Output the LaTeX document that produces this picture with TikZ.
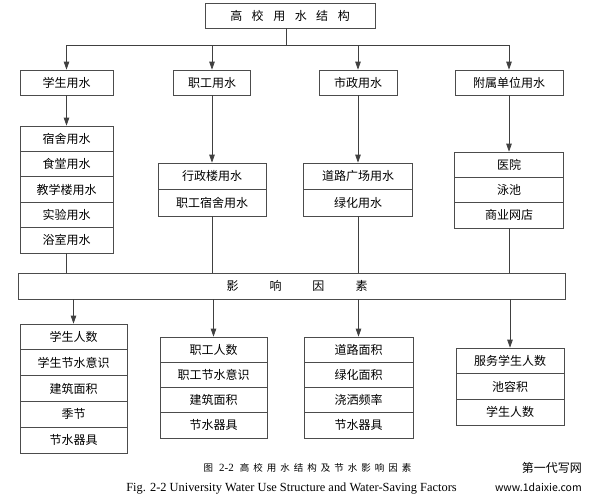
\documentclass[tikz,border=0pt]{standalone}
\usepackage{fontspec}
\setmainfont{Liberation Serif}
\newfontfamily\cjk{Noto Sans CJK SC}
\usetikzlibrary{positioning}
\usetikzlibrary{arrows.meta}
\newcommand{\cg}{\hspace{4pt}}

\begin{document}
\begin{tikzpicture}[x=1pt, y=-1pt, >={Triangle[length=8pt,width=5.5pt]},
    box/.style={draw=black!70, line width=0.7pt, fill=white, inner sep=0pt,
        minimum height=25pt, font=\cjk\fontsize{12}{14}\selectfont},
    link/.style={draw=black!75, line width=0.7pt}]
    \useasboundingbox (0,0) rectangle (593,499);

    % Title
    \node[box, minimum width=170] (title) at (290,15.5)
        {高\hspace{9.5pt}校\hspace{9.5pt}用\hspace{9.5pt}水\hspace{9.5pt}结\hspace{9.5pt}构};

    % Water use categories
    \node[box, minimum width=93] (stu) at (66.5,82.5) {学生用水};
    \node[box, minimum width=77] (stf) at (212,82.5) {职工用水};
    \node[box, minimum width=78] (mun) at (358,82.5) {市政用水};
    \node[box, minimum width=108] (aff) at (509,82.5) {附属单位用水};

    % Sub items
    \foreach \txt [count=\i] in {宿舍用水,食堂用水,教学楼用水,实验用水,浴室用水}
        \node[box, minimum width=93, minimum height=25.4] (stu\i) at (66.5,113.3+25.4*\i) {\txt};
    \foreach \txt [count=\i] in {行政楼用水,职工宿舍用水}
        \node[box, minimum width=108, minimum height=26.5] (stf\i) at (212,149.75+26.5*\i) {\txt};
    \foreach \txt [count=\i] in {道路广场用水,绿化用水}
        \node[box, minimum width=109, minimum height=26.5] (mun\i) at (358,149.75+26.5*\i) {\txt};
    \foreach \txt [count=\i] in {医院,泳池,商业网店}
        \node[box, minimum width=109, minimum height=25.3] (aff\i) at (509,139.35+25.3*\i) {\txt};

    % Influence factors bar
    \node[box, minimum width=547, minimum height=26] (bar) at (291.5,286) {};
    \node[font=\cjk\fontsize{12}{14}\selectfont, inner sep=0pt] (bartext) at (297,286)
        {影\hspace{31pt}响\hspace{31pt}因\hspace{31pt}素};

    % Factors
    \foreach \txt [count=\i] in {学生人数,学生节水意识,建筑面积,季节,节水器具}
        \node[box, minimum width=107, minimum height=25.8] (fstu\i) at (73.5,311.1+25.8*\i) {\txt};
    \foreach \txt [count=\i] in {职工人数,职工节水意识,建筑面积,节水器具}
        \node[box, minimum width=107, minimum height=25.25] (fstf\i) at (213.5,324.375+25.25*\i) {\txt};
    \foreach \txt [count=\i] in {道路面积,绿化面积,浇洒频率,节水器具}
        \node[box, minimum width=109, minimum height=25.25] (fmun\i) at (358.5,324.375+25.25*\i) {\txt};
    \foreach \txt [count=\i] in {服务学生人数,池容积,学生人数}
        \node[box, minimum width=108, minimum height=25.7] (faff\i) at (510,335.15+25.7*\i) {\txt};

    % Connections
    \coordinate (bus) at (286,45);
    \draw[link] (title.south -| bus) -- (bus);
    \draw[link] (stu |- bus) -- (aff |- bus);
    \foreach \n in {stu,stf,mun,aff}
        \draw[link, ->] (\n |- bus) -- (\n);
    \draw[link, ->] (stu) -- (stu1);
    \draw[link, ->] (stf) -- (stf1);
    \draw[link, ->] (mun) -- (mun1);
    \draw[link, ->] (aff) -- (aff1);
    \draw[link] (stu5) -- (stu5 |- bar.north);
    \draw[link] (stf2) -- (stf2 |- bar.north);
    \draw[link] (mun2) -- (mun2 |- bar.north);
    \draw[link] (aff3) -- (aff3 |- bar.north);
    \foreach \n in {fstu1,fstf1,fmun1,faff1}
        \draw[link, ->] (\n |- bar.south) -- (\n);

    % Caption
    \node[font=\cjk\fontsize{9.5}{11}\selectfont, inner sep=0pt] (capcn) at (307.5,468)
        {图\hspace{6pt}{\rmfamily\fontsize{11}{12}\selectfont 2-2}\hspace{6pt}高\cg 校\cg 用\cg 水\cg 结\cg 构\cg 及\cg 节\cg 水\cg 影\cg 响\cg 因\cg 素};
    \node[font=\fontsize{12.4}{14}\selectfont, inner sep=0pt] (capen) at (291.5,489)
        {Fig. 2-2 University Water Use Structure and Water-Saving Factors};

    % Watermark
    \node[font=\cjk\fontsize{12}{14}\selectfont, inner sep=0pt, anchor=east] (wmcn) at (582,468) {第一代写网};
    \node[font=\cjk\fontsize{10.5}{12}\selectfont, inner sep=0pt, anchor=east] (wmen) at (582,487) {www.1daixie.com};
\end{tikzpicture}
\end{document}
